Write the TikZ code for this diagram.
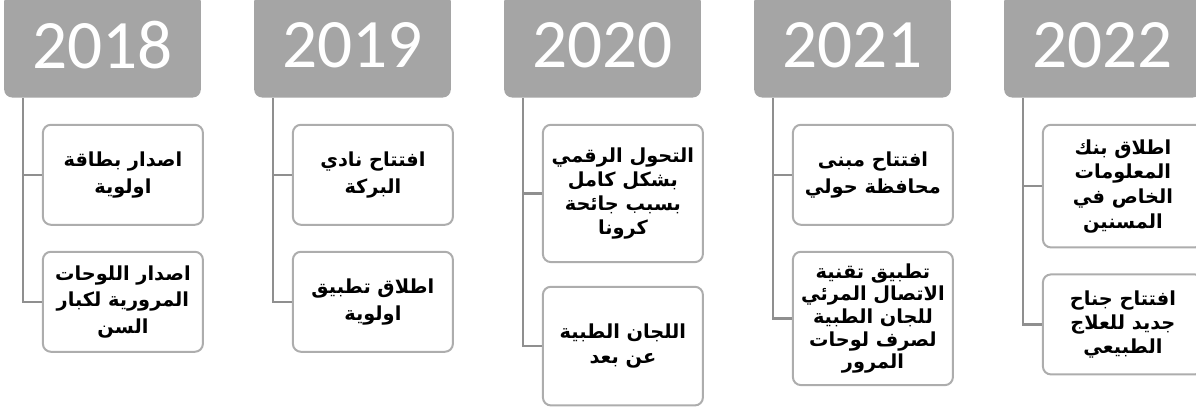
\documentclass[tikz,border=0pt]{standalone}
\usepackage{fontspec}
\usepackage{tikz}
\usetikzlibrary{positioning}
\TeXXeTstate=1
\newfontfamily\arabicfont[Script=Arabic]{DejaVu Sans}
\newfontfamily\yearfont{Carlito}
\definecolor{yeargray}{HTML}{A5A5A5}
\definecolor{boxgray}{HTML}{ADADAD}
\definecolor{linkgray}{HTML}{8F8F8F}
\newcommand{\arline}[1]{\beginR #1\endR}

\begin{document}
\begin{tikzpicture}[x=0.75pt,y=-0.75pt,node distance=187.5pt,
  year node/.style={rectangle,rounded corners=6pt,fill=yeargray,text=white,
    minimum width=147.5pt,minimum height=78pt,font=\yearfont\fontsize{52}{60}\selectfont},
  event node/.style={rectangle,rounded corners=6pt,draw=boxgray,line width=1.5pt,fill=white,
    minimum width=120pt,align=center,inner sep=2pt,
    font=\arabicfont\bfseries\fontsize{14.5}{#1}\selectfont},
  event node/.default=20pt,
  link/.style={draw=linkgray,line width=1.8pt}]

  \useasboundingbox (0,0) rectangle (1196,407);

  \node[year node] (y18) at (102.5,45.5) {2018};
  \node[year node] (y19) [right of=y18] {2019};
  \node[year node] (y20) [right of=y19] {2020};
  \node[year node] (y21) [right of=y20] {2021};
  \node[year node] (y22) [right of=y21] {2022};

  % events
  \node[event node,minimum height=75pt] (e18a) [below right=19.5pt and 28.5pt of y18.south west]
    {\arline{اصدار بطاقة}\\\arline{اولوية}};
  \node[event node,minimum height=75pt] (e18b) [below=18.75pt of e18a]
    {\arline{اصدار اللوحات}\\\arline{المرورية لكبار}\\\arline{السن}};
  \node[event node,minimum height=75pt] (e19a) [below right=19.5pt and 28.5pt of y19.south west]
    {\arline{افتتاح نادي}\\\arline{البركة}};
  \node[event node,minimum height=75pt] (e19b) [below=18.75pt of e19a]
    {\arline{اطلاق تطبيق}\\\arline{اولوية}};
  \node[event node=18pt,minimum height=103pt] (e20a) [below right=19.5pt and 28.5pt of y20.south west]
    {\arline{التحول الرقمي}\\\arline{بشكل كامل}\\\arline{بسبب جائحة}\\\arline{كرونا}};
  \node[event node=19pt,minimum height=89pt] (e20b) [below=17pt of e20a]
    {\arline{اللجان الطبية}\\\arline{عن بعد}};
  \node[event node,minimum height=75pt] (e21a) [below right=19.5pt and 28.5pt of y21.south west]
    {\arline{افتتاح مبنى}\\\arline{محافظة حولي}};
  \node[event node=17pt,minimum height=100pt] (e21b) [below=18.75pt of e21a]
    {\arline{تطبيق تقنية}\\\arline{الاتصال المرئي}\\\arline{للجان الطبية}\\\arline{لصرف لوحات}\\\arline{المرور}};
  \node[event node=18.5pt,minimum height=92pt] (e22a) [below right=19.5pt and 28.5pt of y22.south west]
    {\arline{اطلاق بنك}\\\arline{المعلومات}\\\arline{الخاص في}\\\arline{المسنين}};
  \node[event node=18pt,minimum height=75pt] (e22b) [below=18.75pt of e22a]
    {\arline{افتتاح جناح}\\\arline{جديد للعلاج}\\\arline{الطبيعي}};

  % links
  \path[link] ([xshift=14.25pt]y18.south west) |- (e18a.west);
  \path[link] ([xshift=14.25pt]y18.south west) |- (e18b.west);
  \path[link] ([xshift=14.25pt]y19.south west) |- (e19a.west);
  \path[link] ([xshift=14.25pt]y19.south west) |- (e19b.west);
  \path[link] ([xshift=14.25pt]y20.south west) |- (e20a.west);
  \path[link] ([xshift=14.25pt]y20.south west) |- (e20b.west);
  \path[link] ([xshift=14.25pt]y21.south west) |- (e21a.west);
  \path[link] ([xshift=14.25pt]y21.south west) |- (e21b.west);
  \path[link] ([xshift=14.25pt]y22.south west) |- (e22a.west);
  \path[link] ([xshift=14.25pt]y22.south west) |- (e22b.west);
\end{tikzpicture}
\end{document}
